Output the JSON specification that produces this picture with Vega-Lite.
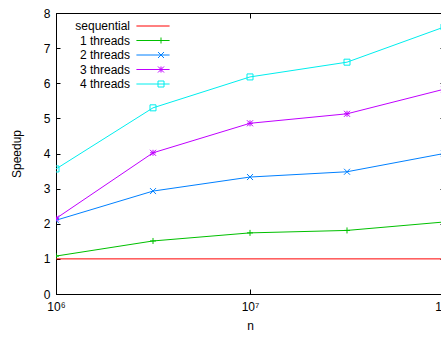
{
  "$schema": "https://vega.github.io/schema/vega-lite/v6.json",
  "width": 388,
  "height": 281,
  "autosize": {"type": "none"},
  "padding": {"left": 56, "top": 13, "right": -3, "bottom": 45},
  "background": "white",
  "config": {
    "font": "Liberation Sans",
    "view": {"stroke": "black", "strokeWidth": 1},
    "axis": {
      "grid": false,
      "domainColor": "black",
      "tickColor": "black",
      "labelColor": "black",
      "titleColor": "black",
      "labelFontSize": 12,
      "titleFontSize": 12,
      "titleFontWeight": "normal",
      "labelFont": "Liberation Sans",
      "titleFont": "Liberation Sans"
    }
  },
  "data": {
    "values": [
      {"n": 1000000, "speedup": 1, "series": "sequential", "marker": "sequential "},
      {"n": 3162278, "speedup": 1, "series": "sequential", "marker": "sequential "},
      {"n": 10000000, "speedup": 1, "series": "sequential", "marker": "sequential "},
      {"n": 31622777, "speedup": 1, "series": "sequential", "marker": "sequential "},
      {"n": 100000000, "speedup": 1, "series": "sequential", "marker": "sequential "},
      {"n": 1000000, "speedup": 1.08, "series": "1 threads", "marker": "1 threads "},
      {"n": 3162278, "speedup": 1.51, "series": "1 threads", "marker": "1 threads "},
      {"n": 10000000, "speedup": 1.74, "series": "1 threads", "marker": "1 threads "},
      {"n": 31622777, "speedup": 1.81, "series": "1 threads", "marker": "1 threads "},
      {"n": 100000000, "speedup": 2.05, "series": "1 threads", "marker": "1 threads "},
      {"n": 1000000, "speedup": 2.1, "series": "2 threads", "marker": "2 threads "},
      {"n": 3162278, "speedup": 2.93, "series": "2 threads", "marker": "2 threads "},
      {"n": 10000000, "speedup": 3.33, "series": "2 threads", "marker": "2 threads "},
      {"n": 31622777, "speedup": 3.48, "series": "2 threads", "marker": "2 threads "},
      {"n": 100000000, "speedup": 4.0, "series": "2 threads", "marker": "2 threads "},
      {"n": 1000000, "speedup": 2.15, "series": "3 threads", "marker": "3 threads "},
      {"n": 3162278, "speedup": 4.02, "series": "3 threads", "marker": "3 threads "},
      {"n": 10000000, "speedup": 4.86, "series": "3 threads", "marker": "3 threads "},
      {"n": 31622777, "speedup": 5.13, "series": "3 threads", "marker": "3 threads "},
      {"n": 100000000, "speedup": 5.83, "series": "3 threads", "marker": "3 threads "},
      {"n": 1000000, "speedup": 3.56, "series": "4 threads", "marker": "4 threads "},
      {"n": 3162278, "speedup": 5.3, "series": "4 threads", "marker": "4 threads "},
      {"n": 10000000, "speedup": 6.18, "series": "4 threads", "marker": "4 threads "},
      {"n": 31622777, "speedup": 6.6, "series": "4 threads", "marker": "4 threads "},
      {"n": 100000000, "speedup": 7.6, "series": "4 threads", "marker": "4 threads "}
    ]
  },
  "layer": [
    {
      "mark": {"type": "line", "strokeWidth": 1, "clip": true},
      "encoding": {
        "x": {
          "field": "n", "type": "quantitative",
          "scale": {"type": "log", "domain": [1000000, 100000000], "nice": false},
          "axis": {
            "title": "n",
            "values": [1000000, 10000000, 100000000],
            "labelExpr": "datum.value < 3000000 ? '10⁶' : datum.value < 30000000 ? '10⁷' : '10⁸'",
            "labelFlush": false,
            "tickSize": -5,
            "labelPadding": 12,
            "titlePadding": 8
          }
        },
        "y": {
          "field": "speedup", "type": "quantitative",
          "scale": {"domain": [0, 8], "nice": false},
          "axis": {
            "title": "Speedup",
            "values": [0, 1, 2, 3, 4, 5, 6, 7, 8],
            "labelFlush": false,
            "tickSize": -4,
            "labelPadding": 10,
            "titlePadding": 20
          }
        },
        "color": {
          "field": "series", "type": "nominal",
          "scale": {
            "domain": ["sequential", "1 threads", "2 threads", "3 threads", "4 threads"],
            "range": ["#ff0000", "#00c000", "#0080ff", "#c000ff", "#00eeee"]
          },
          "legend": {
            "orient": "none", "legendX": 91, "legendY": 7,
            "title": null,
            "symbolType": "M-5,0L5,0", "symbolSize": 44, "symbolStrokeWidth": 1,
            "labelAlign": "right", "labelOffset": -29,
            "labelFontSize": 12, "labelColor": "black", "labelLimit": 200,
            "rowPadding": 2.5, "padding": 0
          }
        }
      }
    },
    {
      "mark": {"type": "point", "filled": false, "strokeWidth": 1, "size": 36, "clip": true, "opacity": 1},
      "encoding": {
        "x": {
          "field": "n", "type": "quantitative",
          "axis": {"orient": "top", "title": null, "labels": false, "domain": false, "values": [1000000, 10000000, 100000000], "tickSize": -5}
        },
        "y": {
          "field": "speedup", "type": "quantitative",
          "axis": {"orient": "right", "title": null, "labels": false, "domain": false, "values": [0, 1, 2, 3, 4, 5, 6, 7, 8], "tickSize": -4}
        },
        "stroke": {
          "field": "marker", "type": "nominal",
          "scale": {
            "domain": ["sequential ", "1 threads ", "2 threads ", "3 threads ", "4 threads "],
            "range": ["#ff0000", "#00c000", "#0080ff", "#c000ff", "#00eeee"]
          },
          "legend": {
            "orient": "none", "legendX": 99, "legendY": 7,
            "title": null,
            "symbolSize": 36, "symbolStrokeWidth": 1, "symbolFillColor": "transparent",
            "labelOpacity": 0, "labelFontSize": 12, "rowPadding": 2.5, "padding": 0
          }
        },
        "shape": {
          "field": "marker", "type": "nominal",
          "scale": {
            "domain": ["sequential ", "1 threads ", "2 threads ", "3 threads ", "4 threads "],
            "range": ["M0,0L0,0", "M-1,0L1,0M0,-1L0,1", "M-1,-1L1,1M-1,1L1,-1", "M-1,0L1,0M0,-1L0,1M-1,-1L1,1M-1,1L1,-1", "square"]
          },
          "legend": {
            "orient": "none", "legendX": 99, "legendY": 7,
            "title": null,
            "symbolSize": 36, "symbolStrokeWidth": 1, "symbolFillColor": "transparent",
            "labelOpacity": 0, "labelFontSize": 12, "rowPadding": 2.5, "padding": 0
          }
        }
      }
    }
  ],
  "resolve": {"axis": {"x": "independent", "y": "independent"}}
}
